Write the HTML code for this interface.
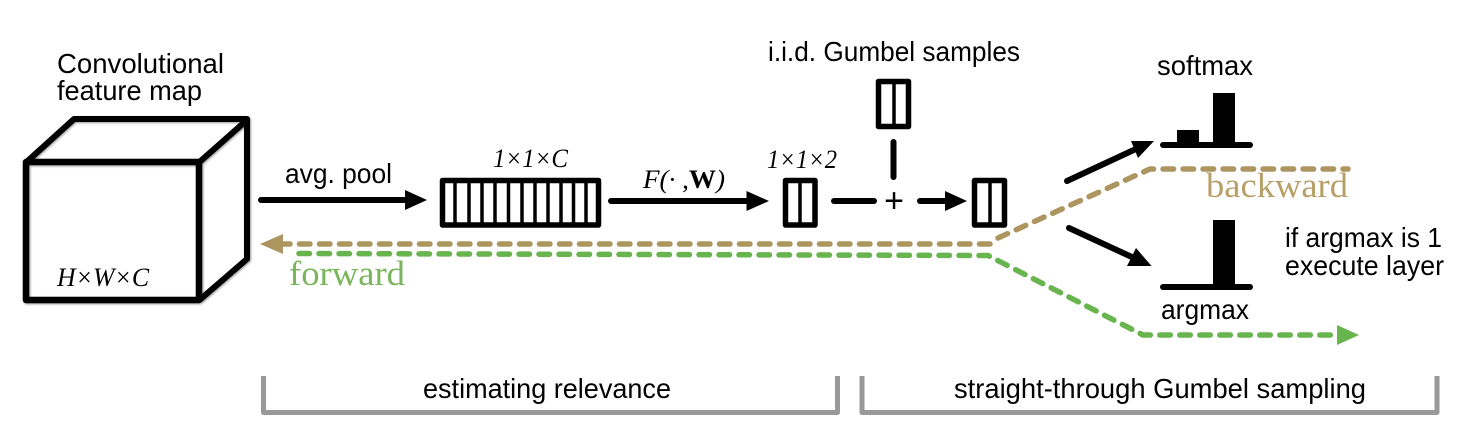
<!DOCTYPE html>
<html><head><meta charset="utf-8"><style>
html,body{margin:0;padding:0;background:#fff}
svg{display:block}
.s{font-family:"Liberation Sans",sans-serif;font-size:27.500px;fill:#000}
.i{font-family:"Liberation Serif",serif;font-style:italic;font-size:26px;fill:#000}
</style></head><body>
<svg width="1470" height="434" viewBox="0 0 1470 434" xmlns="http://www.w3.org/2000/svg">
<!-- cube -->
<g fill="none" stroke="#000" stroke-linejoin="round" style="filter:drop-shadow(1px 1px 1px rgba(0,0,0,.4))">
<rect x="26" y="162" width="173" height="138" stroke-width="6.500"/>
<path d="M26.500 162L74 119H247V259L199.500 300" stroke-width="6"/>
<path d="M199.500 162L247 120" stroke-width="6"/>
</g>
<!-- boxes -->
<g fill="none" stroke="#000" stroke-width="5.500" stroke-linejoin="round">
<rect x="442.500" y="180.500" width="156" height="44.500"/>
<path d="M455 181V225M469 181V225M482 181V225M495 181V225M508.500 181V225M522 181V225M535 181V225M548 181V225M561 181V225M573.500 181V225M586 181V225" stroke-width="3.500"/>
<rect x="785.500" y="180.500" width="29.500" height="44.500"/>
<path d="M800 181V225" stroke-width="3.500"/>
<rect x="974.500" y="180.500" width="30" height="44.500"/>
<path d="M990 181V225" stroke-width="3.500"/>
<rect x="878.500" y="81.500" width="30" height="45"/>
<path d="M894 82V126" stroke-width="3.500"/>
</g>
<!-- black lines -->
<g stroke="#000" stroke-width="6" stroke-linecap="round" fill="none">
<path d="M261 200H406"/>
<path d="M611 201H748"/>
<path d="M834 201H874"/>
<path d="M893.500 142V177"/>
<path d="M920 201H946"/>
<path d="M1067 181L1138 148"/>
<path d="M1069 228L1134 258"/>
<path d="M1163 145H1250"/>
<path d="M1163 287H1250"/>
</g>
<g fill="#000">
<path d="M405 190L427 200L405 210Z"/>
<path d="M746.500 191L769 201L746.500 211Z"/>
<path d="M945 191L967 201L945 211Z"/>
<path d="M1131 141L1154 141L1138 158Z"/>
<path d="M1136 248L1151.500 266L1127 266Z"/>
<rect x="1177" y="130" width="22" height="15"/>
<rect x="1213" y="93" width="22" height="52"/>
<rect x="1213" y="220" width="22" height="67"/>
</g>
<!-- dashed -->
<g fill="none" stroke-width="5.500" stroke-linecap="round" stroke-linejoin="round" stroke-dasharray="10.500 9.500">
<path d="M990 244H281" stroke="#ad9560"/>
<path d="M998 238L1150 169H1348" stroke="#ad9560"/>
<path d="M299 253.500L988 255.500L1143 335H1335" stroke="#68b44e"/>
</g>
<path d="M283 234L260 244L283 254Z" fill="#ad9560"/>
<path d="M1337 325L1359 335L1337 345Z" fill="#68b44e"/>
<!-- brackets -->
<path d="M263.500 376V412.500H837.500V376" fill="none" stroke="#999" stroke-width="5" stroke-linejoin="round"/>
<path d="M862 376V412.500H1437V376" fill="none" stroke="#999" stroke-width="5" stroke-linejoin="round"/>
<!-- text -->
<text class="s" x="57" y="73" textLength="167" lengthAdjust="spacingAndGlyphs">Convolutional</text>
<text class="s" x="57" y="100" textLength="145" lengthAdjust="spacingAndGlyphs">feature map</text>
<text class="s" x="285" y="183" textLength="107" lengthAdjust="spacingAndGlyphs">avg. pool</text>
<text class="i" x="57" y="286" textLength="92" lengthAdjust="spacingAndGlyphs">H×W×C</text>
<text x="289" y="285" font-family="'Liberation Serif',serif" font-size="35" fill="#7ab55c" textLength="116" lengthAdjust="spacingAndGlyphs">forward</text>
<text class="i" x="493" y="167" textLength="75" lengthAdjust="spacingAndGlyphs">1×1×C</text>
<text class="i" x="643" y="188" textLength="82" lengthAdjust="spacingAndGlyphs">F(· ,<tspan font-weight="bold" font-style="normal">W</tspan>)</text>
<text class="i" x="767" y="168" textLength="70" lengthAdjust="spacingAndGlyphs">1×1×2</text>
<text class="s" x="768" y="61" textLength="252" lengthAdjust="spacingAndGlyphs">i.i.d. Gumbel samples</text>
<text class="s" x="1157" y="75" textLength="96" lengthAdjust="spacingAndGlyphs">softmax</text>
<text x="1206" y="197" font-family="'Liberation Serif',serif" font-size="35" fill="#b89f68" textLength="142" lengthAdjust="spacingAndGlyphs">backward</text>
<text class="s" x="1285" y="247" textLength="157" lengthAdjust="spacingAndGlyphs">if argmax is 1</text>
<text class="s" x="1285" y="275" textLength="159" lengthAdjust="spacingAndGlyphs">execute layer</text>
<text class="s" x="1161" y="319" textLength="88" lengthAdjust="spacingAndGlyphs">argmax</text>
<text x="894" y="212" text-anchor="middle" font-family="'Liberation Sans',sans-serif" font-size="34" fill="#000">+</text>
<text class="s" x="423" y="398" textLength="248" lengthAdjust="spacingAndGlyphs">estimating relevance</text>
<text class="s" x="954" y="398" textLength="412" lengthAdjust="spacingAndGlyphs">straight-through Gumbel sampling</text>
</svg>
</body></html>
